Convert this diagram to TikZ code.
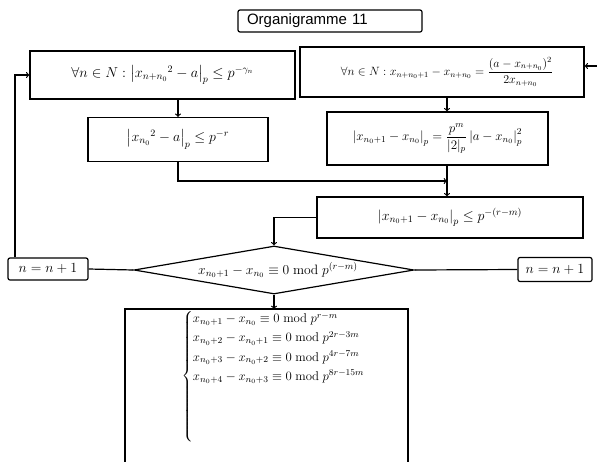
\RequirePackage{fix-cm}
\documentclass[tikz,border=0pt]{standalone}
\usepackage{amsmath,amssymb}
\usepackage{fontspec}
\setsansfont{Liberation Sans}
\usepackage{tikz}
\usetikzlibrary{shapes.geometric}
\usetikzlibrary{positioning}
\def\xn#1{x_{n_0#1}}
\def\fs#1{\fontsize{#1}{#1}\selectfont}

\begin{document}
\begin{tikzpicture}[x=1pt, y=-1pt, line width=1.2pt,
    box/.style={draw, rectangle, inner sep=0pt},
    ctr/.style={draw, rectangle, rounded corners=2pt, inner sep=0pt}]
    \useasboundingbox (0,0) rectangle (597,461);

    \node[ctr, text width=166pt, align=left, inner xsep=9pt, minimum height=22, font=\sffamily\fs{15}] (t) at (330,21) {Organigramme 11};
    \node[box, minimum width=265, minimum height=48, font=\fs{14.4}] (h) at (162.5,75) {$\forall n\in N : \left| x_{n+n_0}{}^2 - a \right|_p \le p^{-\gamma_n}$};
    \node[box, minimum width=180, minimum height=44, font=\fs{14}] (b) at (178,139.5) {$\left| x_{n_0}{}^2 - a \right|_p \le p^{-r}$};
    \node[box, minimum width=284, minimum height=50, font=\fs{12}] (c) at (442,72) {\hspace{10pt}$\forall n\in N : x_{n+n_0+1} - x_{n+n_0} = \dfrac{(a - x_{n+n_0})^2}{2x_{n+n_0}}$};
    \node[box, minimum width=221, minimum height=53, font=\fs{13}] (d) at (437.5,138.5) {$\left| \xn{+1} - \xn{} \right|_p = \dfrac{p^m}{|2|_p} \left| a - \xn{} \right|_p^2$};
    \node[box, minimum width=266, minimum height=41, font=\fs{14}] (e) at (450,217.5) {$\left| \xn{+1} - \xn{} \right|_p \le p^{-(r-m)}$};
    \node[draw, diamond, inner sep=0pt, aspect=5.8, minimum width=280, minimum height=48, font=\fs{13.6}] (q) at (274,270) {\hspace{8pt}$\xn{+1} - \xn{} \equiv 0 \bmod p^{(r-m)}$};
    \node[ctr, minimum width=80, minimum height=22, font=\fs{14}] (l) at (48,269) {$n = n+1$};
    \node[ctr, minimum width=74, minimum height=24, font=\fs{14}] (r) at (555,269.5) {$n = n+1$};

    % last box runs past the lower edge
    \draw (125,462) |- (408,309) -- (408,462);
    \coordinate (f) at (273,309);
    \node[anchor=north west, inner sep=0pt, font=\fontsize{12.8}{15}\selectfont] (s) at (181,309) {\def\arraystretch{1.27}$\left\{\begin{array}{@{}l@{}}
        \xn{+1} - \xn{} \equiv 0 \bmod p^{r-m}\\
        \xn{+2} - \xn{+1} \equiv 0 \bmod p^{2r-3m}\\
        \xn{+3} - \xn{+2} \equiv 0 \bmod p^{4r-7m}\\
        \xn{+4} - \xn{+3} \equiv 0 \bmod p^{8r-15m}\\
        \\ \\ \\
    \end{array}\right.$};

    \coordinate (v) at (447,0);
    \coordinate (m) at (447,181);
    \coordinate (i) at (597,66);

    \draw[->] (b.north |- h.south) -- (b.north);
    \draw[->] (v |- c.south) -- (v |- d.north);
    \draw[->] (b.south) |- (m);
    \draw[->] (v |- d.south) -- (v |- e.north);
    \draw[->] (e.west) -| (q.north);
    \draw (l.east) -- (q.west);
    \draw (q.east) -- (r.west);
    \draw[->] ([xshift=-33pt]l.north) |- (h.west);
    \draw[->] (i) -- (i -| c.east);
    \draw[->] (q.south) -- (q.south |- f);
\end{tikzpicture}
\end{document}
